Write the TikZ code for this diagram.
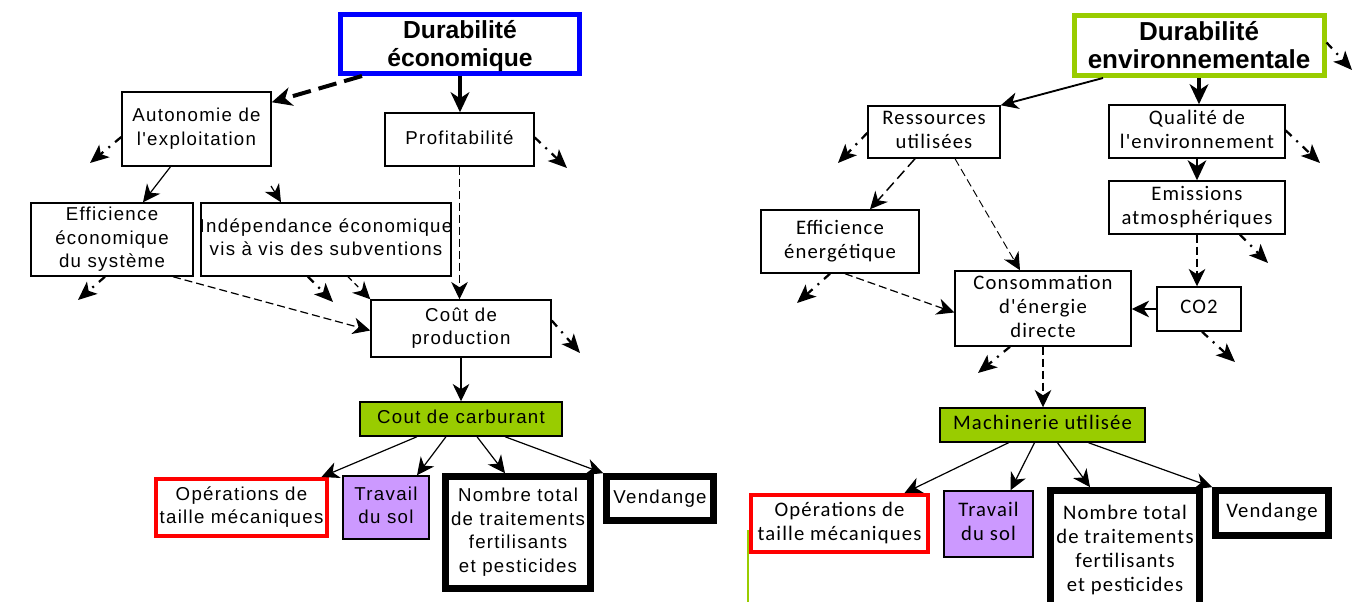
\documentclass[tikz,border=0pt]{standalone}
\usepackage{fontspec}
\setmainfont{Liberation Sans}
\newfontfamily\lfont[LetterSpace=7]{Liberation Sans}
\newfontfamily\rfont[LetterSpace=5.5]{Carlito}
\usetikzlibrary{arrows.meta,calc}
\definecolor{ecoblue}{RGB}{0,0,255}
\definecolor{envgreen}{RGB}{153,204,0}
\definecolor{lilac}{RGB}{204,153,255}
\definecolor{redb}{RGB}{255,0,0}
\newcommand\bxt[1]{\makebox[0pt]{\begin{tabular}{@{}c@{}}#1\end{tabular}}}
\newcommand\lsz{\lfont\fontsize{14}{17.6}\selectfont}
\newcommand\rsz{\rfont\fontsize{15.5}{18}\selectfont}
\tikzset{
 wh/.style 2 args={minimum width=#1*0.75pt, minimum height=#2*0.75pt},
 box/.style={draw, line width=1.1pt, inner sep=0pt, fill=white},
 lb/.style={box, font=\lsz},
 rb/.style={box, font=\rsz},
 ttl/.style={draw, fill=white, inner sep=0pt, line width=3.75pt},
 ar/.style={-{Stealth[length=13pt,width=12.5pt,inset=4pt]}, line width=0.9pt},
 arb/.style={-{Stealth[length=15pt,width=14pt,inset=4.5pt]}, line width=3pt},
 dd/.style={-{Stealth[length=14pt,width=12pt,inset=3.5pt]}, line width=1.7pt, dash pattern=on 6pt off 5pt on 1.5pt off 5pt},
 dsh/.style={ar, dash pattern=on 6pt off 3pt},
}
\begin{document}
\begin{tikzpicture}[x=0.75pt,y=-0.75pt]
\useasboundingbox (0,0) rectangle (1356,602);
\clip (0,0) rectangle (1356,602);
\fill[white] (0,0) rectangle (1356,602);

% ---------- left diagram ----------
\node[ttl, draw=ecoblue, wh={239}{59}, font=\bfseries\fontsize{18.5}{21}\selectfont] (econ) at (460,44) {\raisebox{-2.5pt}[\height][\depth]{\bxt{Durabilité\\économique}}};
\node[lb, wh={149}{74}] (auto) at (196.5,129) {\bxt{Autonomie de\\l'exploitation}};
\node[lb, wh={149}{53}] (profit) at (459.5,139.5) {\bxt{Profitabilité}};
\node[lb, wh={162}{73}] (effeco) at (112,239.5) {\bxt{Efficience\\économique\\du système}};
\node[lb, wh={250}{73}] (indep) at (326,239.5) {\bxt{Indépendance économique\\vis à vis des subventions}};
\node[lb, wh={180}{57}] (cout) at (461,328.5) {\bxt{Coût de\\production}};
\node[lb, wh={202}{34}, fill=envgreen] (carb) at (461,419) {\bxt{Cout de carburant}};
\node[lb, wh={171}{57}, draw=redb, line width=3pt] (opL) at (241.5,507.5) {\bxt{Opérations de\\taille mécaniques}};
\node[lb, wh={86}{63}, fill=lilac] (travL) at (386,507.5) {\bxt{Travail\\du sol}};
\node[lb, wh={145}{112}, line width=5pt] (nombreL) at (518,532.5) {\bxt{Nombre total\\de traitements\\fertilisants\\et pesticides}};
\node[lb, wh={107}{44}, line width=5pt] (vendL) at (660,498.5) {\bxt{Vendange}};

\coordinate (f1) at (90,163);
\coordinate (f2) at (567,168);
\coordinate (f3) at (271,186);
\coordinate (f4) at (78,300);
\coordinate (f5) at (333,302);
\coordinate (f6) at (580,353);

\draw[arb, dash pattern=on 14pt off 6pt] ($(econ.south west)+(24,0)$) -- ($(auto.north east)+(0,11)$);
\draw[arb] (econ.south) -- (econ.south |- profit.north);
\draw[dd] ($(auto.west)+(0,8)$) -- (f1);
\draw[dd] ($(profit.east)+(0,-2)$) -- (f2);
\draw[ar] ($(auto.south)+(-26,0)$) -- ($(effeco.north)+(31,0)$);
\draw[ar] (f3) -- ($(indep.north)+(-45,0)$);
\draw[dsh] (profit.south) -- (profit.south |- cout.north);
\draw[dd] ($(effeco.south)+(-7,0)$) -- (f4);
\draw[dsh] ($(effeco.south)+(61,0)$) -- ($(cout.west)+(0,2)$);
\draw[dd] ($(indep.south)+(-18,0)$) -- (f5);
\draw[ar, dash pattern=on 4pt off 3pt] ($(indep.south)+(22,0)$) -- (cout.north west);
\draw[dd] ($(cout.east)+(0,-8)$) -- (f6);
\draw[ar] (cout.south) -- (carb.north);
\draw[ar] ($(carb.south)+(-44,0)$) -- ($(opL.north)+(80,0)$);
\draw[ar] ($(carb.south)+(-15,0)$) -- ($(travL.north)+(31,0)$);
\draw[ar] ($(carb.south)+(16,0)$) -- ($(nombreL.north)+(-13,0)$);
\draw[ar] ($(carb.south)+(44,0)$) -- (vendL.north west);

% ---------- right diagram ----------
\node[ttl, draw=envgreen, wh={250}{60}, font=\bfseries\fontsize{19.5}{21}\selectfont] (env) at (1199,45.5) {\raisebox{-2.5pt}[\height][\depth]{\bxt{Durabilité\\environnementale}}};
\node[rb, wh={132}{52}] (ress) at (934,132) {\bxt{Ressources\\utilisées}};
\node[rb, wh={176}{53}] (qual) at (1197,131.5) {\bxt{Qualité de\\l'environnement}};
\node[rb, wh={176}{53}] (emis) at (1197,207.5) {\bxt{Emissions\\atmosphériques}};
\node[rb, wh={84}{44}] (co2) at (1199,309) {\bxt{CO2}};
\node[rb, wh={158}{63}] (effen) at (840,241.5) {\bxt{Efficience\\énergétique}};
\node[rb, wh={176}{75}] (conso) at (1043,308.5) {\bxt{Consommation\\d'énergie\\directe}};
\node[rb, wh={205}{34}, fill=envgreen] (mach) at (1042.5,425) {\bxt{Machinerie utilisée}};
\node[rb, wh={177}{57}, draw=redb, line width=3pt] (opR) at (839.5,523.5) {\bxt{Opérations de\\taille mécaniques}};
\node[rb, wh={89}{66}, fill=lilac] (travR) at (988.5,524) {\bxt{Travail\\du sol}};
\node[rb, wh={149}{121}, line width=5pt] (nombreR) at (1125,551) {\bxt{Nombre total\\de traitements\\fertilisants\\et pesticides}};
\node[rb, wh={113}{45}, line width=5pt] (vendR) at (1272,513) {\bxt{Vendange}};

\coordinate (g1) at (1352,70);
\coordinate (g2) at (838,163);
\coordinate (g3) at (1320,163);
\coordinate (g4) at (1268,263);
\coordinate (g5) at (1235,362);
\coordinate (g6) at (797,303);
\coordinate (g7) at (978,373);

\draw[ar, line width=1.4pt] ($(env.south)+(-96,0)$) -- (ress.north east);
\draw[arb, line width=2.5pt] (env.south) -- (env.south |- qual.north);
\draw[dd] ($(env.east)+(0,-3)$) -- (g1);
\draw[dd] ($(ress.west)+(0,1)$) -- (g2);
\draw[dd] ($(qual.east)+(0,-1)$) -- (g3);
\draw[arb, line width=1.5pt] (qual.south) -- (emis.north);
\draw[dd] ($(emis.south)+(43,0)$) -- (g4);
\draw[dsh] (emis.south) -- (emis.south |- co2.north);
\draw[ar, line width=1.2pt] (co2.west) -- (co2.west -| conso.east);
\draw[dd] ($(co2.south)+(3,0)$) -- (g5);
\draw[dsh, line width=1.1pt, dash pattern=on 8pt off 4pt] ($(ress.south)+(-19,0)$) -- ($(effen.north)+(30,0)$);
\draw[dsh, line width=0.7pt] ($(ress.south)+(21,0)$) -- ($(conso.north)+(-23,0)$);
\draw[dd] ($(effen.south)+(-10,0)$) -- (g6);
\draw[dsh] ($(effen.south)+(5,0)$) -- ($(conso.west)+(0,4)$);
\draw[dd] ($(conso.south)+(-33,0)$) -- (g7);
\draw[dsh] (conso.south) -- (conso.south |- mach.north);
\draw[ar] ($(mach.south)+(-34,0)$) -- ($(opR.north)+(65,0)$);
\draw[ar] ($(mach.south)+(-8,0)$) -- ($(travR.north)+(22,0)$);
\draw[ar] ($(mach.south)+(15,0)$) -- ($(nombreR.north)+(-35,0)$);
\draw[ar] ($(mach.south)+(46,0)$) -- (vendR.north west);

\draw[envgreen, line width=1.2pt] (748,530) -- (748,602);
\end{tikzpicture}
\end{document}
